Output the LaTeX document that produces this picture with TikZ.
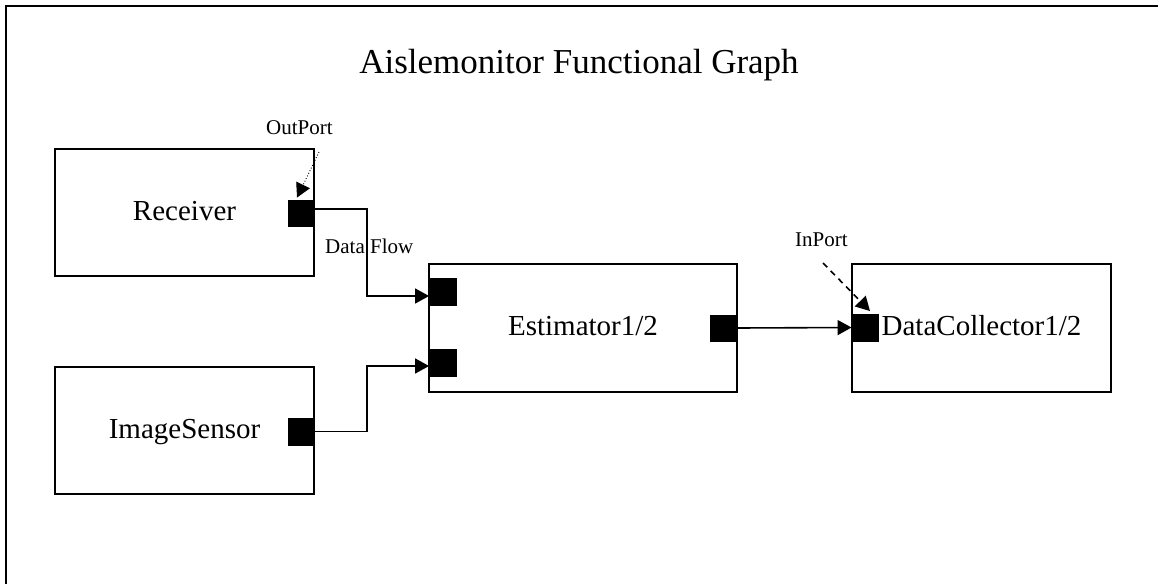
\documentclass[tikz,border=0pt]{standalone}
\usepackage{fontspec}
\setmainfont{Liberation Serif}
\usetikzlibrary{arrows.meta}

\tikzset{
  block/.style={draw=black, line width=1.8pt, fill=white, inner sep=0pt,
    text height=15pt, text depth=0pt, font=\fontsize{29}{34}\selectfont},
  port/.style={draw=black, fill=black, inner sep=0pt, minimum width=26.5pt, minimum height=26.5pt},
  flow/.style={line width=1.6pt, -{Triangle[length=14pt,width=15pt]}},
  note/.style={inner sep=0pt, anchor=base west, font=\fontsize{21}{25}\selectfont},
  pointer/.style={-{Triangle[length=14pt,width=15pt]}}
}

\begin{document}
\begin{tikzpicture}[x=1pt, y=-1pt]
  \useasboundingbox (0,0) rectangle (1158,584);

  % frame
  \draw[line width=2pt] (6,584) -- (6,6) -- (1158,6);

  % title
  \node[inner sep=0pt, anchor=base, font=\fontsize{35}{40}\selectfont] (title) at (579,73)
    {Aislemonitor Functional Graph};

  % functional blocks
  \node[block, minimum width=259pt, minimum height=127pt] (recv) at (184.5,212.5) {Receiver};
  \node[block, minimum width=259pt, minimum height=127pt] (sens) at (184.5,430.5) {ImageSensor};
  \node[block, minimum width=308pt, minimum height=128pt] (est)  at (583,328) {Estimator1/2};
  \node[block, minimum width=259pt, minimum height=128pt] (coll) at (981.5,328) {DataCollector1/2};

  % ports
  \node[port] (rp)  at (301,213) {};
  \node[port] (sp)  at (301,431.5) {};
  \node[port] (ei1) at (442.5,291.5) {};
  \node[port] (ei2) at (442.5,362.5) {};
  \node[port] (eo)  at (723.5,328) {};
  \node[port] (cp)  at (865,327.5) {};

  % connection points on the ports
  \coordinate (rpout) at ([yshift=4pt]rp.east);
  \coordinate (e1in) at ([yshift=-4.5pt]ei1.west);
  \coordinate (e2in) at ([yshift=-3.5pt]ei2.west);
  \coordinate (bend) at (367,0);

  % data flows
  \draw[flow] (rpout) -| (bend |- e1in) -- (e1in);
  \draw[flow] (sp.east) -| (bend |- e2in) -- (e2in);
  \draw[flow] (eo.east) -- (cp.west);

  % annotations
  \node[note] (outlbl) at (266,134) {OutPort};
  \node[note] (flowlbl) at (325,253) {Data Flow};
  \node[note] (inlbl) at (795,246) {InPort};
  \coordinate (outtail) at (319,152);
  \coordinate (outtip) at ([xshift=-4pt,yshift=2pt]rp.north);
  \coordinate (intail) at (823,263);
  \coordinate (intip) at ([xshift=5pt,yshift=3pt]cp.north);
  \draw[pointer, line width=0.9pt, dotted] (outtail) -- (outtip);
  \draw[pointer, line width=1.6pt, dash pattern=on 6pt off 5pt] (intail) -- (intip);
\end{tikzpicture}
\end{document}
